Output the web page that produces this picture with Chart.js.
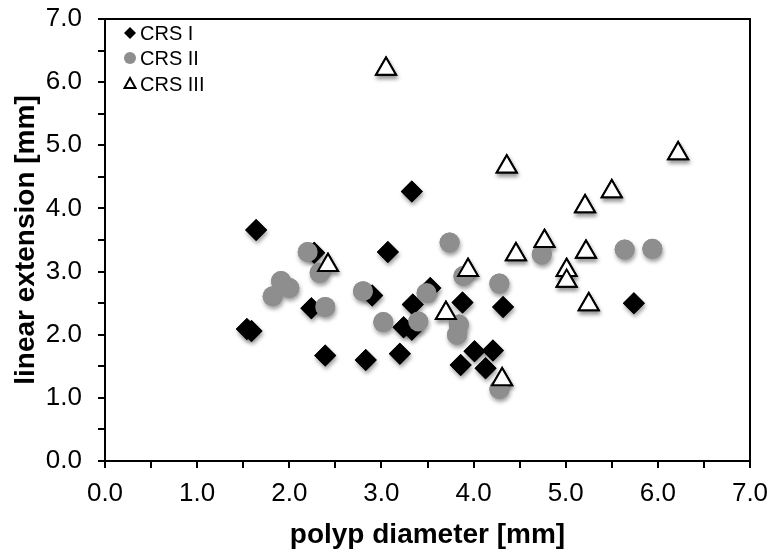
<!DOCTYPE html>
<html>
<head>
<meta charset="utf-8">
<script src="https://cdn.jsdelivr.net/npm/chart.js@4.4.0/dist/chart.umd.min.js"></script>
<style>
  html, body { margin: 0; padding: 0; background: #fff; }
</style>
</head>
<body>
<canvas id="chart" width="771" height="554"></canvas>
<script>
// CRS I  (black diamonds) - polyp diameter [mm] / linear extension [mm]
const crs1X = [1.64, 3.33, 3.07, 2.27, 2.24, 1.54, 1.59, 2.39, 2.83, 3.20, 2.90, 3.34, 3.24, 3.33, 3.53, 3.88, 4.32, 5.74, 4.01, 4.21, 3.86, 4.13];
const crs1Y = [3.66, 4.27, 3.31, 3.30, 2.42, 2.09, 2.06, 1.67, 1.60, 1.70, 2.62, 2.48, 2.12, 2.08, 2.74, 2.51, 2.44, 2.50, 1.74, 1.75, 1.52, 1.47];

// CRS II (grey circles)
const crs2X = [2.20, 2.33, 1.91, 2.00, 1.82, 2.39, 2.80, 3.02, 3.40, 3.74, 3.89, 3.49, 3.84, 3.82, 4.28, 4.74, 5.64, 5.94, 4.28];
const crs2Y = [3.31, 2.98, 2.85, 2.74, 2.61, 2.44, 2.69, 2.20, 2.21, 3.46, 2.93, 2.66, 2.16, 2.00, 2.81, 3.27, 3.35, 3.36, 1.14];

// CRS III (open triangles)
const crs3X = [3.05, 2.42, 3.94, 3.70, 4.46, 4.77, 5.21, 5.22, 5.01, 5.01, 5.25, 4.31, 4.36, 6.22, 5.50];
const crs3Y = [6.21, 3.10, 3.02, 2.34, 3.27, 3.48, 4.03, 3.31, 3.02, 2.85, 2.48, 1.29, 4.66, 4.87, 4.27];

const seriesNames = ['CRS I', 'CRS II', 'CRS III'];
const xTitle = 'polyp diameter [mm]';
const yTitle = 'linear extension [mm]';

const toPoints = (xs, ys) => xs.map((x, i) => ({ x: x, y: ys[i] }));
const grey = '#8e8e8e';

// soft drop shadow: draw the points once with a shadow, then the normal pass paints over them
const shadowPlugin = {
  id: 'markerShadow',
  beforeDatasetsDraw(chart) {
    const ctx = chart.ctx;
    ctx.save();
    ctx.shadowColor = 'rgba(0,0,0,0.4)';
    ctx.shadowBlur = 4;
    ctx.shadowOffsetX = 1;
    ctx.shadowOffsetY = 3;
    [0, 1, 2].forEach((i) => {
      chart.getDatasetMeta(i).data.forEach((pt) => pt.draw(ctx, chart.chartArea));
    });
    ctx.restore();
  }
};

// box around plot area + legend in the top-left corner
const framePlugin = {
  id: 'frame',
  afterDraw(chart) {
    const { ctx, chartArea: a } = chart;
    ctx.save();
    ctx.strokeStyle = '#000';
    ctx.lineWidth = 2;
    ctx.strokeRect(a.left, a.top, a.right - a.left, a.bottom - a.top);

    const mx = a.left + 25;
    const tx = a.left + 35;
    const rows = [a.top + 14, a.top + 39, a.top + 65];
    ctx.font = '20px "Liberation Sans", Arial, sans-serif';
    ctx.textBaseline = 'middle';
    ctx.fillStyle = '#000';
    seriesNames.forEach((name, i) => {
      const y = rows[i];
      ctx.beginPath();
      if (i === 0) {
        ctx.fillStyle = '#000';
        ctx.moveTo(mx, y - 6); ctx.lineTo(mx + 6, y); ctx.lineTo(mx, y + 6); ctx.lineTo(mx - 6, y);
        ctx.closePath(); ctx.fill();
      } else if (i === 1) {
        ctx.fillStyle = grey;
        ctx.arc(mx, y, 6, 0, Math.PI * 2); ctx.fill();
      } else {
        ctx.fillStyle = '#fff';
        ctx.lineWidth = 2;
        ctx.moveTo(mx, y - 6); ctx.lineTo(mx + 5.5, y + 4); ctx.lineTo(mx - 5.5, y + 4);
        ctx.closePath(); ctx.fill(); ctx.stroke();
      }
      ctx.fillStyle = '#000';
      ctx.fillText(name, tx, y + 1);
    });
    ctx.restore();
  }
};

const tickFont = { family: '"Liberation Sans", Arial, sans-serif', size: 26 };
const titleFont = { family: '"Liberation Sans", Arial, sans-serif', size: 28, weight: 'bold' };
const label1 = (v) => (Math.abs(v - Math.round(v)) < 1e-6 ? Number(v).toFixed(1) : '');
const noPad = (s) => { s.paddingTop = 0; s.paddingBottom = 0; s.paddingLeft = 0; s.paddingRight = 0; };

new Chart(document.getElementById('chart'), {
  type: 'scatter',
  data: {
    datasets: [
      {
        label: seriesNames[0],
        data: toPoints(crs1X, crs1Y),
        pointStyle: 'rectRot',
        pointRadius: 11,
        backgroundColor: '#000',
        borderColor: '#000',
        borderWidth: 0,
        order: 3
      },
      {
        label: seriesNames[1],
        data: toPoints(crs2X, crs2Y),
        pointStyle: 'circle',
        pointRadius: 10,
        backgroundColor: grey,
        borderColor: grey,
        borderWidth: 0,
        order: 2
      },
      {
        label: seriesNames[2],
        data: toPoints(crs3X, crs3Y),
        pointStyle: 'triangle',
        pointRadius: 11.5,
        backgroundColor: '#fff',
        borderColor: '#000',
        borderWidth: 2,
        order: 1
      }
    ]
  },
  options: {
    responsive: false,
    animation: false,
    devicePixelRatio: 1,
    layout: { padding: { left: 0, top: 19, right: 21, bottom: 0 } },
    plugins: {
      legend: { display: false },
      tooltip: { enabled: false }
    },
    scales: {
      x: {
        type: 'linear',
        min: 0,
        max: 7,
        afterFit: (s) => { s.height = 93; noPad(s); },
        border: { display: true, color: '#000', width: 2 },
        grid: { drawOnChartArea: false, drawTicks: true, tickLength: 7, color: '#000', lineWidth: 2 },
        ticks: {
          stepSize: 0.5,
          autoSkip: false,
          maxRotation: 0,
          padding: 10,
          color: '#000',
          font: tickFont,
          callback: label1
        },
        title: { display: true, text: xTitle, color: '#000', font: titleFont, padding: { top: 2, bottom: 2 } }
      },
      y: {
        type: 'linear',
        min: 0,
        max: 7,
        afterFit: (s) => { s.width = 105; noPad(s); },
        border: { display: true, color: '#000', width: 2 },
        grid: { drawOnChartArea: false, drawTicks: true, tickLength: 7, color: '#000', lineWidth: 2 },
        ticks: {
          stepSize: 0.5,
          autoSkip: false,
          padding: 16,
          color: '#000',
          font: tickFont,
          callback: label1
        },
        title: { display: true, text: yTitle, color: '#000', font: titleFont, padding: { top: 9, bottom: 0 } }
      }
    }
  },
  plugins: [shadowPlugin, framePlugin]
});
</script>
</body>
</html>
